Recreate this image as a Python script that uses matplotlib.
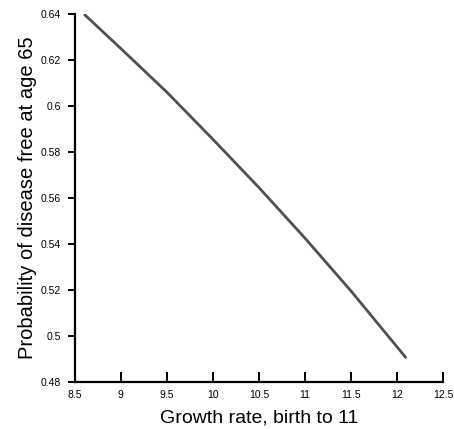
import matplotlib
matplotlib.use("Agg")
import matplotlib.pyplot as plt

plt.rcParams["font.family"] = ["Liberation Sans", "DejaVu Sans"]

growth = [8.6, 9.0, 9.5, 10.0, 10.5, 11.0, 11.5, 12.1]
prob = [0.640, 0.625, 0.606, 0.5855, 0.5645, 0.5425, 0.5195, 0.4903]
xticks = [8.5, 9, 9.5, 10, 10.5, 11, 11.5, 12, 12.5]
yticks = [0.48, 0.5, 0.52, 0.54, 0.56, 0.58, 0.6, 0.62, 0.64]

fig = plt.figure(figsize=(4.54, 4.29), dpi=100)
ax = fig.add_axes([0.165, 0.110, 0.811, 0.857])
ax.plot(growth, prob, color="#505050", lw=2.0, solid_capstyle="butt")

ax.set_xlim(8.5, 12.5)
ax.set_ylim(0.48, 0.64)
ax.set_xticks(xticks)
ax.set_xticklabels([f"{v:g}" for v in xticks])
ax.set_yticks(yticks)
ax.set_yticklabels([f"{v:g}" for v in yticks])
ax.spines["top"].set_visible(False)
ax.spines["right"].set_visible(False)
ax.spines["left"].set_linewidth(1.6)
ax.spines["bottom"].set_linewidth(1.6)
ax.tick_params(axis="x", direction="in", length=7, width=1.4, labelsize=7.5, pad=6)
ax.tick_params(axis="y", direction="out", length=5, width=1.4, labelsize=7.5, pad=5)

ax.set_xlabel("Growth rate, birth to 11", fontsize=14, labelpad=7)
ax.set_ylabel("Probability of disease free at age 65", fontsize=14.5, labelpad=3)

fig.savefig("out.png", dpi=100)
